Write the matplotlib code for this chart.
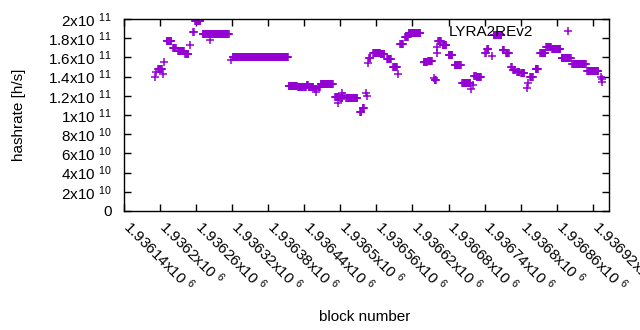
import matplotlib
matplotlib.use("Agg")
import matplotlib.pyplot as plt
import matplotlib.transforms as mtransforms
import numpy as np

plt.rcParams['font.family'] = ['Liberation Sans', 'DejaVu Sans']
plt.rcParams['mathtext.default'] = 'regular'

# hashrate runs: first block, last block, hashrate (1e9 h/s)
seg_start = [1936192, 1936193, 1936197, 1936205, 1936207, 1936211, 1936222, 1936230,
             1936242, 1936250, 1936255, 1936258, 1936271, 1936283, 1936318, 1936321,
             1936414, 1936430, 1936444, 1936447, 1936457, 1936460, 1936463, 1936467,
             1936491, 1936496, 1936500, 1936503, 1936506, 1936510, 1936533, 1936537,
             1936542, 1936544, 1936546, 1936548, 1936555, 1936567, 1936578, 1936588,
             1936596, 1936600, 1936608, 1936614, 1936639, 1936646, 1936656, 1936657,
             1936660, 1936661, 1936663, 1936670, 1936680, 1936690, 1936703, 1936718,
             1936720, 1936723, 1936727, 1936741, 1936744, 1936752, 1936755, 1936770,
             1936776, 1936784, 1936788, 1936794, 1936801, 1936810, 1936812, 1936816,
             1936825, 1936833, 1936843, 1936852, 1936868, 1936886, 1936911, 1936934,
             1936935, 1936936]
seg_end = [1936192, 1936193, 1936203, 1936205, 1936207, 1936219, 1936226, 1936240,
           1936247, 1936250, 1936256, 1936267, 1936314, 1936283, 1936318, 1936413,
           1936428, 1936443, 1936446, 1936455, 1936460, 1936460, 1936466, 1936487,
           1936497, 1936496, 1936503, 1936503, 1936506, 1936528, 1936535, 1936539,
           1936542, 1936544, 1936546, 1936550, 1936566, 1936573, 1936584, 1936594,
           1936596, 1936604, 1936612, 1936633, 1936644, 1936652, 1936656, 1936659,
           1936660, 1936661, 1936667, 1936676, 1936686, 1936700, 1936716, 1936718,
           1936720, 1936725, 1936734, 1936742, 1936746, 1936752, 1936768, 1936772,
           1936780, 1936785, 1936790, 1936798, 1936806, 1936810, 1936812, 1936820,
           1936829, 1936841, 1936850, 1936866, 1936883, 1936908, 1936929, 1936934,
           1936935, 1936936]
seg_hashrate = [140, 145, 148, 143, 155, 177, 170, 167,
                164, 173, 186, 198, 184, 178, 157, 160,
                130, 129, 131, 129, 127, 124, 129, 132,
                119, 113, 118, 123, 120, 118, 103, 107,
                123, 120, 154, 159, 165, 164, 158, 150,
                143, 174, 181, 185, 155, 156, 139, 136,
                165, 171, 177, 173, 163, 152, 133, 127,
                131, 141, 140, 165, 169, 161, 183, 168,
                165, 150, 147, 145, 144, 128, 133, 140,
                148, 165, 171, 169, 159, 153, 146, 140,
                134, 137]

yticks = [i * 2e10 for i in range(11)]
ylabels = ['0', '2x10 $^{10}$', '4x10 $^{10}$', '6x10 $^{10}$', '8x10 $^{10}$', '1x10 $^{11}$',
           '1.2x10 $^{11}$', '1.4x10 $^{11}$', '1.6x10 $^{11}$', '1.8x10 $^{11}$', '2x10 $^{11}$']
xticks = [1936140 + 60 * i for i in range(14)]
xlabels = ['1.93614x10 $^{6}$', '1.9362x10 $^{6}$', '1.93626x10 $^{6}$', '1.93632x10 $^{6}$',
           '1.93638x10 $^{6}$', '1.93644x10 $^{6}$', '1.9365x10 $^{6}$', '1.93656x10 $^{6}$',
           '1.93662x10 $^{6}$', '1.93668x10 $^{6}$', '1.93674x10 $^{6}$', '1.9368x10 $^{6}$',
           '1.93686x10 $^{6}$', '1.93692x10 $^{6}$']

blocks = []
rates = []
for s, e, h in zip(seg_start, seg_end, seg_hashrate):
    for b in range(s, e + 1):
        blocks.append(b)
        rates.append(h * 1e9)

fig = plt.figure(figsize=(6.4, 3.3), dpi=100)
ax = fig.add_axes([124 / 640, 1 - 211 / 330, 485 / 640, 192 / 330])
ax.plot(blocks, rates, linestyle='none', marker='+', markersize=6, markeredgewidth=1.1,
        color='#9400d3', label='LYRA2REv2')

ax.set_xlim(1936140, 1936947)
ax.set_ylim(0, 2e11)
ax.set_yticks(yticks)
ax.set_yticklabels(ylabels, fontsize=11)
ax.set_xticks(xticks)
ax.set_xticklabels(xlabels, fontsize=11, rotation=-45, ha='left', va='top', rotation_mode='anchor')
ax.tick_params(direction='in', length=5, width=1, top=True, right=True)
ax.tick_params(axis='x', pad=4)
ax.tick_params(axis='y', pad=9)
shift = mtransforms.ScaledTranslation(9 / 100, 0, fig.dpi_scale_trans)
for lab in ax.get_xticklabels():
    lab.set_transform(lab.get_transform() + shift)
for sp in ax.spines.values():
    sp.set_linewidth(1)

ax.set_ylabel('hashrate [h/s]', fontsize=11)
ax.yaxis.set_label_coords((26 - 124) / 485, 0.5)
ax.set_xlabel('block number', fontsize=11)
ax.xaxis.set_label_coords((365 - 124) / 485, -(310 - 211) / 192)

ax.legend(loc='upper right', markerfirst=False, frameon=False, fontsize=11,
          bbox_to_anchor=(0.983, 1.04), handlelength=2.5, handletextpad=1.0, borderaxespad=0.5)

fig.savefig('out.png', dpi=100)
